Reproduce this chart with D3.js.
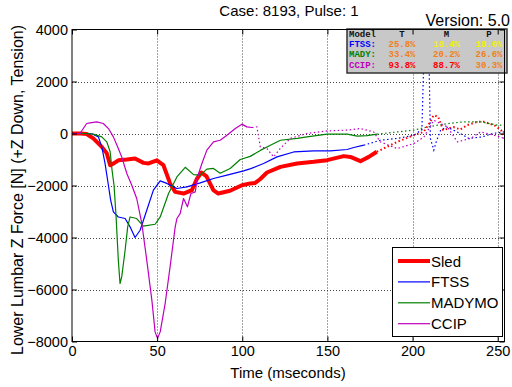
<!DOCTYPE html>
<html>
<head>
<meta charset="utf-8">
<script src="https://cdn.jsdelivr.net/npm/d3@7"></script>
<style>
    body { margin: 0; background: #fff; }
    text { font-family: "Liberation Sans", Arial, sans-serif; }
    .grid line { stroke: #444; stroke-dasharray: 1,2; stroke-width: 1; }
    .tbl text { font-family: "Liberation Mono", monospace; font-weight: bold; font-size: 9px; }
</style>
</head>
<body>
<svg id="chart" width="512" height="387"></svg>
<script>
/*--------------------------------------------------------------------------------
----- DATA ([time ms, force N])
--------------------------------------------------------------------------------*/

const sled_solid = [[0, 0], [5, 0], [8.6, -20], [12.5, -190], [17.5, -515], [20.4, -760], [22.4, -1220], [24.5, -1150],
    [27.2, -1030], [32.2, -1000], [37, -960], [42, -1130], [45, -1150], [49.8, -1030], [53.7, -1220], [57.6, -1920],
    [60.6, -2245], [65.5, -2310], [70.4, -2180], [73.3, -1750], [76, -1500], [79, -1650], [83, -2180], [85.9, -2310],
    [92.8, -2200], [99.8, -1990], [104.7, -1920], [107.6, -1900], [110.6, -1750], [114.5, -1500], [122.4, -1285],
    [132.2, -1155], [142, -1090], [149.8, -1025], [159.6, -870], [163.5, -900], [169.4, -1065], [174.3, -900], [179, -700]];
const sled_dotted = [[179, -700], [181, -640], [191, -320], [200.8, -65], [206.5, 60], [210, 400], [212.4, 700],
    [215, 650], [218, 130], [224, 250], [228, 150], [232, 320], [238, 450], [242, 450], [248, 320], [252, 130], [254, -200]];

const ftss_solid = [[0, 0], [8, 0], [11.6, -10], [15.5, -130], [17.5, -515], [19.4, -1150], [21.4, -2000], [22.7, -2560],
    [24.3, -3015], [27.2, -3210], [31.2, -3270], [34.1, -3590], [37, -4000], [40, -3720], [43.9, -2950], [47.8, -2180],
    [51.8, -1820], [55.7, -1920], [61.6, -2115], [67.5, -2050], [75.3, -1900], [83.1, -1730], [91, -1600], [100.8, -1440],
    [105, -1350], [112.5, -1155], [120.4, -900], [130.2, -710], [142, -670], [151.8, -670], [161.6, -615], [165.5, -540],
    [171.4, -450]];
const ftss_dotted = [[171.4, -450], [181, -260], [191, -190], [200.8, -65], [205.5, 150], [206.7, 3100], [209.6, 3100],
    [210.5, -200], [212.5, -640], [214, -300], [216.5, 130], [220, 250], [224, 130], [228, 0], [233, -190], [241, -130],
    [247, 0], [254, 60]];

const madymo_solid = [[0, 0], [8, 0], [12.5, -25], [17.5, -130], [20.4, -320], [22.4, -700], [23.5, -1400], [24.7, -2000],
    [25.9, -3210], [27.2, -4870], [28.2, -5770], [29.2, -5515], [31.2, -4490], [32.7, -3590], [34.1, -3210], [38, -3270],
    [41.9, -3565], [48.8, -3490], [51.8, -3210], [56.7, -2310], [61.6, -1670], [66.5, -1300], [71.4, -1580], [75.3, -1600],
    [79.2, -1370], [83.1, -1345], [87, -1530], [92.9, -1345], [98.8, -1000], [104.7, -880], [110.6, -650], [116.5, -450],
    [122.4, -260], [132.2, -190], [138, -130], [149.8, -25], [161.6, -25], [167.5, -100], [173.3, -80], [179.2, -25]];
const madymo_dotted = [[179.2, -25], [191, 60], [200.8, 130], [208.6, 250], [220.4, 380], [230.2, 450], [240, 450],
    [249.8, 320], [254, 320]];

const ccip_solid = [[0, 0], [4.7, 0], [8.6, 385], [10.6, 410], [14.5, 450], [18.4, 385], [21.4, 190], [24.3, -130],
    [27.2, -580], [29.2, -900], [32.2, -1540], [35.1, -1990], [38, -2500], [41, -3460], [43.9, -4870], [46.9, -6410],
    [48.8, -7630], [50.2, -7880], [51.8, -7630], [54.7, -6540], [57.6, -5130], [60.6, -3590], [61.6, -3270], [63.5, -3080],
    [65.5, -2500], [67.8, -2820], [69.8, -2310], [72.4, -2245], [73.7, -1670], [76.3, -1155], [79.2, -640], [83.1, -320],
    [87, -260], [91, -65], [95.9, 190], [99.8, 360], [102.7, 255], [105.7, 230]];
const ccip_dotted = [[105.7, 230], [108.6, 255], [110.6, -515], [114.5, -580], [118.4, -900], [122, -600], [128.2, -190],
    [138, 0], [149.8, 100], [161.6, 130], [169.4, 190], [177.2, 60], [181, -320], [191, -580], [200.8, -385], [206.7, -130],
    [212.5, 510], [220.4, 255], [226.3, -320], [234.1, -190], [240, 60], [247.8, -65], [254, -190]];

// Legend / series definitions
const series_names = ["Sled", "FTSS", "MADYMO", "CCIP"];
const series_colors = ["#ff0000", "#0000ff", "#008000", "#bf00bf"];
const series_widths = [4, 1.2, 1.2, 1.2];

// Tick values
const x_ticks = [0, 50, 100, 150, 200, 250];
const y_ticks = [4000, 2000, 0, -2000, -4000, -6000, -8000];

// Score table (model, T, M, P) and their colours
const table_header = ["Model", "T", "M", "P"];
const table_models = ["FTSS:", "MADY:", "CCIP:"];
const table_values = [["25.8%", "18.4%", "18.0%"], ["33.4%", "20.2%", "26.6%"], ["93.8%", "88.7%", "30.3%"]];
const table_colors = [["#f08020", "#f0f000", "#f0f000"], ["#f08020", "#f08020", "#f08020"], ["#ff0000", "#ff0000", "#f08020"]];

/*--------------------------------------------------------------------------------
----- CHART
--------------------------------------------------------------------------------*/

const margins = { top: 29.5, right: 7.5, bottom: 45.5, left: 72 };
const width = 512, height = 387;

const x_scale = d3.scaleLinear().domain([0, 254]).range([margins.left, width - margins.right]);
const y_scale = d3.scaleLinear().domain([-8000, 4000]).range([height - margins.bottom, margins.top]);

const svg = d3.select("#chart");

// Clip for the plot area
svg.append("clipPath").attr("id", "plot-clip")
    .append("rect")
    .attr("x", x_scale(0)).attr("y", y_scale(4000))
    .attr("width", x_scale(254) - x_scale(0)).attr("height", y_scale(-8000) - y_scale(4000));

// Grid lines (dotted)
const grid = svg.append("g").attr("class", "grid");
grid.selectAll(".gx").data(x_ticks.slice(1)).enter().append("line")
    .attr("x1", d => Math.round(x_scale(d)) + 0.5).attr("x2", d => Math.round(x_scale(d)) + 0.5)
    .attr("y1", y_scale(4000)).attr("y2", y_scale(-8000));
grid.selectAll(".gy").data(y_ticks.slice(1, -1)).enter().append("line")
    .attr("y1", d => Math.round(y_scale(d)) + 0.5).attr("y2", d => Math.round(y_scale(d)) + 0.5)
    .attr("x1", x_scale(0)).attr("x2", x_scale(254));

const line = d3.line()
    .x(function (d) { return x_scale(d[0]); })
    .y(function (d) { return y_scale(d[1]); });

const solid_data = [sled_solid, ftss_solid, madymo_solid, ccip_solid];
const dotted_data = [sled_dotted, ftss_dotted, madymo_dotted, ccip_dotted];

const plot = svg.append("g").attr("clip-path", "url(#plot-clip)");

// Solid parts, sled first so the models sit on top
[0, 1, 2, 3].forEach(function (i) {
    plot.append("path")
        .datum(solid_data[i])
        .attr("fill", "none")
        .attr("stroke", series_colors[i])
        .attr("stroke-width", series_widths[i])
        .attr("stroke-linejoin", "round")
        .attr("d", line);
});

// Score table box in the upper right corner
const tbl = svg.append("g").attr("class", "tbl");
tbl.append("rect")
    .attr("x", 347).attr("y", 29).attr("width", 160).attr("height", 44)
    .attr("fill", "#c8c8c8").attr("stroke", "#333").attr("stroke-width", 1.5);

const col_x = [349, 402, 446.5, 489];
tbl.selectAll(".hdr").data(table_header).enter().append("text")
    .attr("x", (d, i) => col_x[i])
    .attr("y", 36.5)
    .attr("text-anchor", (d, i) => i === 0 ? "start" : "middle")
    .attr("fill", "#111")
    .text(d => d);

table_models.forEach(function (m, r) {
    tbl.append("text")
        .attr("x", col_x[0]).attr("y", 46.5 + r * 10.5)
        .attr("fill", series_colors[r + 1])
        .text(m);
    table_values[r].forEach(function (v, c) {
        tbl.append("text")
            .attr("x", col_x[c + 1]).attr("y", 46.5 + r * 10.5)
            .attr("text-anchor", "middle")
            .attr("fill", table_colors[r][c])
            .text(v);
    });
});

// Dotted continuation of each series
[0, 1, 2, 3].forEach(function (i) {
    plot.append("path")
        .datum(dotted_data[i])
        .attr("fill", "none")
        .attr("stroke", series_colors[i])
        .attr("stroke-width", i === 0 ? 2 : 1.2)
        .attr("stroke-dasharray", "1.5,2.5")
        .attr("d", line);
});

// Axes box
svg.append("rect")
    .attr("x", x_scale(0)).attr("y", y_scale(4000))
    .attr("width", x_scale(254) - x_scale(0)).attr("height", y_scale(-8000) - y_scale(4000))
    .attr("fill", "none").attr("stroke", "#000").attr("stroke-width", 1);

// Bottom and left axes (inward ticks), plus mirrored ticks top/right
const x_axis = svg.append("g")
    .attr("transform", "translate(0," + y_scale(-8000) + ")")
    .call(d3.axisBottom(x_scale).tickValues(x_ticks).tickSizeInner(-5).tickSizeOuter(0).tickPadding(4));
const y_axis = svg.append("g")
    .attr("transform", "translate(" + x_scale(0) + ",0)")
    .call(d3.axisLeft(y_scale).tickValues(y_ticks).tickFormat(d3.format("d")).tickSizeInner(-5).tickSizeOuter(0).tickPadding(4));
svg.append("g")
    .attr("transform", "translate(0," + y_scale(4000) + ")")
    .call(d3.axisTop(x_scale).tickValues(x_ticks).tickSizeInner(-5).tickSizeOuter(0).tickFormat(""));
svg.append("g")
    .attr("transform", "translate(" + x_scale(254) + ",0)")
    .call(d3.axisRight(y_scale).tickValues(y_ticks).tickSizeInner(-5).tickSizeOuter(0).tickFormat(""));

svg.selectAll(".domain").remove();
svg.selectAll(".tick line").attr("stroke", "#000");
x_axis.selectAll("text").attr("font-size", "14.5px").attr("fill", "#000").attr("font-family", "Liberation Sans, Arial, sans-serif");
y_axis.selectAll("text").attr("font-size", "14.5px").attr("fill", "#000").attr("font-family", "Liberation Sans, Arial, sans-serif");

// Axis titles and headers
svg.append("text")
    .attr("x", 288).attr("y", 378)
    .attr("text-anchor", "middle").attr("font-size", "15px")
    .text("Time (mseconds)");
svg.append("text")
    .attr("transform", "translate(23,190) rotate(-90)")
    .attr("text-anchor", "middle").attr("font-size", "16px")
    .text("Lower Lumbar Z Force [N] (+Z Down, Tension)");
svg.append("text")
    .attr("x", 289).attr("y", 16)
    .attr("text-anchor", "middle").attr("font-size", "15px")
    .text("Case: 8193, Pulse: 1");
svg.append("text")
    .attr("x", 510).attr("y", 25.5)
    .attr("text-anchor", "end").attr("font-size", "16px")
    .text("Version: 5.0");

// Legend
const legend = svg.append("g");
legend.append("rect")
    .attr("x", 392.5).attr("y", 247.5).attr("width", 110).attr("height", 89)
    .attr("fill", "#fff").attr("stroke", "#000").attr("stroke-width", 1);
series_names.forEach(function (name, i) {
    const ly = 261 + i * 20.9;
    legend.append("line")
        .attr("x1", 398).attr("x2", 430).attr("y1", ly).attr("y2", ly)
        .attr("stroke", series_colors[i]).attr("stroke-width", series_widths[i]);
    legend.append("text")
        .attr("x", 431).attr("y", ly + 5.5)
        .attr("font-size", "15px")
        .text(name);
});
</script>
</body>
</html>
